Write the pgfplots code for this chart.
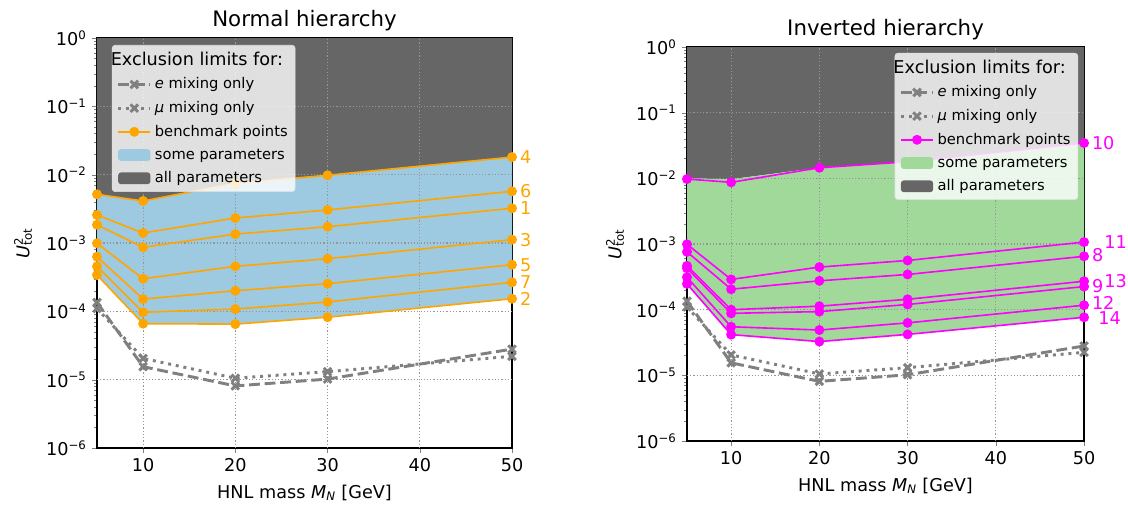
\documentclass[border=0pt]{standalone}
\usepackage{fontspec}
\setmainfont{DejaVu Sans}
\usepackage{pgfplots}
\pgfplotsset{compat=1.18}
\definecolor{bfill}{RGB}{158,202,225}
\definecolor{gfill}{RGB}{161,217,155}
\definecolor{darkfill}{RGB}{102,102,102}
\definecolor{bmorange}{RGB}{255,165,0}
\definecolor{bmmag}{RGB}{255,0,255}
\definecolor{lgray}{RGB}{128,128,128}
\definecolor{gridgray}{RGB}{150,150,150}

\pgfplotsset{
  patchlegend/.style={legend image code/.code={\fill[##1, opacity=1] (0pt,-4pt) rectangle (22pt,4pt);}},
  emix/.style={lgray, line width=2pt, dash pattern=on 7.4pt off 3.2pt, mark=x, mark size=3.6pt, mark options={solid, line width=2pt}},
  mumix/.style={lgray, line width=2pt, dash pattern=on 2pt off 3.3pt, mark=x, mark size=3.6pt, mark options={solid, line width=2pt}},
  bm/.style={line width=1.1pt, mark=*, mark size=2.8pt, mark options={solid}},
}
\tikzset{numlab/.style={anchor=west, inner sep=0pt, font=\fontsize{12}{14}\selectfont},
  gridline/.style={gridgray, line width=0.8pt, dash pattern=on 0.8pt off 1.4pt}}

\begin{document}
\begin{tikzpicture}
\useasboundingbox (-65.96pt,-38.08pt) rectangle (701.08pt,304.64pt);

% ---------------- Normal hierarchy ----------------
\begin{axis}[width=282.2pt, height=278.8pt, at={(0pt,0pt)}, anchor=south west,
    scale only axis,
    xmin=5, xmax=50, ymode=log, ymin=1e-6, ymax=1,
    xtick={10,20,30,40,50}, xticklabels={10,20,30,40,50},
    ytick={1e-6,1e-5,1e-4,1e-3,1e-2,1e-1,1},
    yticklabels={10\textsuperscript{−6},10\textsuperscript{−5},10\textsuperscript{−4},10\textsuperscript{−3},10\textsuperscript{−2},10\textsuperscript{−1},10\textsuperscript{0}},
    tick label style={font=\fontsize{12}{14}\selectfont},
    tick align=outside, xtick pos=left, ytick pos=left,
    major tick length=3.5pt, minor tick length=2pt,
    axis line style={line width=0.8pt},
    clip mode=individual,
    title style={at={(axis description cs:0.5,1)}, anchor=base, yshift=2pt, font=\fontsize{14.5}{17}\selectfont},
    xlabel style={at={(axis description cs:0.5,0)}, anchor=base, yshift=-34pt, font=\fontsize{12}{14}\selectfont},
    xlabel={HNL mass \textit{M}\textsubscript{\textit{N}} [GeV]},
    ylabel={\textit{U}\rlap{\textsuperscript{2}}\textsubscript{tot}},
    legend cell align=left,
    legend style={fill=white, fill opacity=0.8, text opacity=1, draw opacity=1, draw=black!12,
      rounded corners=2pt, font=\fontsize{10}{12}\selectfont, row sep=3pt, inner xsep=3pt, inner ysep=2.5pt},
    legend image code/.code={\draw[mark repeat=2,mark phase=2,#1,opacity=1] plot coordinates {(0pt,0pt) (11pt,0pt) (22pt,0pt)};},
  title={Normal hierarchy},
  ylabel style={at={(axis description cs:-0.178,0.5)}, anchor=center, font=\fontsize{12}{14}\selectfont},
  legend style={at={(rel axis cs:0.036,0.983)}, anchor=north west}]
% all parameters (dark)
\addplot[fill=darkfill, draw=none, forget plot] coordinates {(5,5.16e-3)(10,4.12e-3)(20,7.47e-3)(30,9.8e-3)(50,1.81e-2)(50,1)(5,1)} -- cycle;
% some parameters (blue)
\addplot[fill=bfill, draw=none, forget plot] coordinates {(5,3.4e-4)(10,6.6e-5)(20,6.5e-5)(30,8.2e-5)(50,1.53e-4)(50,1.81e-2)(30,9.8e-3)(20,7.47e-3)(10,4.12e-3)(5,5.16e-3)} -- cycle;
% grid
\draw[gridline] (axis cs:10,1e-6) -- (axis cs:10,1);
\draw[gridline] (axis cs:20,1e-6) -- (axis cs:20,1);
\draw[gridline] (axis cs:30,1e-6) -- (axis cs:30,1);
\draw[gridline] (axis cs:40,1e-6) -- (axis cs:40,1);
\draw[gridline] (axis cs:5,1e-5) -- (axis cs:50,1e-5);
\draw[gridline] (axis cs:5,1e-4) -- (axis cs:50,1e-4);
\draw[gridline] (axis cs:5,1e-3) -- (axis cs:50,1e-3);
\draw[gridline] (axis cs:5,1e-2) -- (axis cs:50,1e-2);
\draw[gridline] (axis cs:5,1e-1) -- (axis cs:50,1e-1);
% gray lines
\addplot[emix, forget plot] coordinates {(5,1.35e-4)(10,1.55e-5)(20,8.1e-6)(30,1.02e-5)(50,2.8e-5)};
\addplot[mumix, forget plot] coordinates {(5,1.1e-4)(10,2.05e-5)(20,1.05e-5)(30,1.31e-5)(50,2.2e-5)};
% benchmarks
\addplot[bm, bmorange, forget plot] coordinates {(5,5.16e-3)(10,4.12e-3)(20,7.47e-3)(30,9.8e-3)(50,1.81e-2)};
\addplot[bm, bmorange, forget plot] coordinates {(5,2.57e-3)(10,1.40e-3)(20,2.32e-3)(30,3.04e-3)(50,5.71e-3)};
\addplot[bm, bmorange, forget plot] coordinates {(5,1.85e-3)(10,8.65e-4)(20,1.35e-3)(30,1.73e-3)(50,3.22e-3)};
\addplot[bm, bmorange, forget plot] coordinates {(5,9.9e-4)(10,3.0e-4)(20,4.56e-4)(30,5.89e-4)(50,1.12e-3)};
\addplot[bm, bmorange, forget plot] coordinates {(5,6.3e-4)(10,1.51e-4)(20,2.0e-4)(30,2.54e-4)(50,4.81e-4)};
\addplot[bm, bmorange, forget plot] coordinates {(5,4.56e-4)(10,9.7e-5)(20,1.08e-4)(30,1.37e-4)(50,2.66e-4)};
\addplot[bm, bmorange, forget plot] coordinates {(5,3.4e-4)(10,6.6e-5)(20,6.5e-5)(30,8.2e-5)(50,1.53e-4)};
\node[numlab, text=bmorange, xshift=5.4pt] at (axis cs:50,1.81e-2) {4};
\node[numlab, text=bmorange, xshift=5.4pt] at (axis cs:50,5.71e-3) {6};
\node[numlab, text=bmorange, xshift=5.4pt] at (axis cs:50,3.22e-3) {1};
\node[numlab, text=bmorange, xshift=5.4pt] at (axis cs:50,1.12e-3) {3};
\node[numlab, text=bmorange, xshift=5.4pt] at (axis cs:50,4.81e-4) {5};
\node[numlab, text=bmorange, xshift=5.4pt] at (axis cs:50,2.66e-4) {7};
\node[numlab, text=bmorange, xshift=5.4pt] at (axis cs:50,1.53e-4) {2};
% legend
\addlegendimage{empty legend}
\addlegendentry{\hspace{-30pt}\fontsize{12}{14}\selectfont Exclusion limits for:}
\addlegendimage{emix}
\addlegendentry{\textit{e} mixing only}
\addlegendimage{mumix}
\addlegendentry{\textit{μ} mixing only}
\addlegendimage{bm, bmorange}
\addlegendentry{benchmark points}
\addlegendimage{patchlegend, fill=bfill, draw=none}
\addlegendentry{some parameters}
\addlegendimage{patchlegend, fill=darkfill, draw=none}
\addlegendentry{all parameters}
\end{axis}

% ---------------- Inverted hierarchy ----------------
\begin{axis}[width=270pt, height=267.9pt, at={(401.2pt,4.76pt)}, anchor=south west,
    scale only axis,
    xmin=5, xmax=50, ymode=log, ymin=1e-6, ymax=1,
    xtick={10,20,30,40,50}, xticklabels={10,20,30,40,50},
    ytick={1e-6,1e-5,1e-4,1e-3,1e-2,1e-1,1},
    yticklabels={10\textsuperscript{−6},10\textsuperscript{−5},10\textsuperscript{−4},10\textsuperscript{−3},10\textsuperscript{−2},10\textsuperscript{−1},10\textsuperscript{0}},
    tick label style={font=\fontsize{12}{14}\selectfont},
    tick align=outside, xtick pos=left, ytick pos=left,
    major tick length=3.5pt, minor tick length=2pt,
    axis line style={line width=0.8pt},
    clip mode=individual,
    title style={at={(axis description cs:0.5,1)}, anchor=base, yshift=2pt, font=\fontsize{14.5}{17}\selectfont},
    xlabel style={at={(axis description cs:0.5,0)}, anchor=base, yshift=-34pt, font=\fontsize{12}{14}\selectfont},
    xlabel={HNL mass \textit{M}\textsubscript{\textit{N}} [GeV]},
    ylabel={\textit{U}\rlap{\textsuperscript{2}}\textsubscript{tot}},
    legend cell align=left,
    legend style={fill=white, fill opacity=0.8, text opacity=1, draw opacity=1, draw=black!12,
      rounded corners=2pt, font=\fontsize{10}{12}\selectfont, row sep=3pt, inner xsep=3pt, inner ysep=2.5pt},
    legend image code/.code={\draw[mark repeat=2,mark phase=2,#1,opacity=1] plot coordinates {(0pt,0pt) (11pt,0pt) (22pt,0pt)};},
  title={Inverted hierarchy},
  ylabel style={at={(axis description cs:-0.181,0.5)}, anchor=center, font=\fontsize{12}{14}\selectfont},
  legend style={at={(rel axis cs:0.985,0.985)}, anchor=north east}]
\addplot[fill=darkfill, draw=none, forget plot] coordinates {(5,1e-2)(10,9.7e-3)(20,1.45e-2)(30,1.79e-2)(50,3.45e-2)(50,1)(5,1)} -- cycle;
\addplot[fill=gfill, draw=none, forget plot] coordinates {(5,2.47e-4)(10,4.17e-5)(20,3.27e-5)(30,4.2e-5)(50,7.66e-5)(50,3.45e-2)(30,1.79e-2)(20,1.45e-2)(10,9.7e-3)(5,1e-2)} -- cycle;
\draw[gridline] (axis cs:10,1e-6) -- (axis cs:10,1);
\draw[gridline] (axis cs:20,1e-6) -- (axis cs:20,1);
\draw[gridline] (axis cs:30,1e-6) -- (axis cs:30,1);
\draw[gridline] (axis cs:40,1e-6) -- (axis cs:40,1);
\draw[gridline] (axis cs:5,1e-5) -- (axis cs:50,1e-5);
\draw[gridline] (axis cs:5,1e-4) -- (axis cs:50,1e-4);
\draw[gridline] (axis cs:5,1e-3) -- (axis cs:50,1e-3);
\draw[gridline] (axis cs:5,1e-2) -- (axis cs:50,1e-2);
\draw[gridline] (axis cs:5,1e-1) -- (axis cs:50,1e-1);
\addplot[emix, forget plot] coordinates {(5,1.35e-4)(10,1.55e-5)(20,8.1e-6)(30,1.02e-5)(50,2.8e-5)};
\addplot[mumix, forget plot] coordinates {(5,1.1e-4)(10,2.05e-5)(20,1.05e-5)(30,1.31e-5)(50,2.24e-5)};
\addplot[bm, bmmag, forget plot] coordinates {(5,9.76e-3)(10,8.7e-3)(20,1.45e-2)(30,1.79e-2)(50,3.45e-2)};
\addplot[bm, bmmag, forget plot] coordinates {(5,9.9e-4)(10,2.89e-4)(20,4.45e-4)(30,5.62e-4)(50,1.07e-3)};
\addplot[bm, bmmag, forget plot] coordinates {(5,7.6e-4)(10,2.05e-4)(20,2.75e-4)(30,3.44e-4)(50,6.5e-4)};
\addplot[bm, bmmag, forget plot] coordinates {(5,4.65e-4)(10,1.0e-4)(20,1.13e-4)(30,1.44e-4)(50,2.71e-4)};
\addplot[bm, bmmag, forget plot] coordinates {(5,4.28e-4)(10,8.8e-5)(20,9.35e-5)(30,1.2e-4)(50,2.25e-4)};
\addplot[bm, bmmag, forget plot] coordinates {(5,3.12e-4)(10,5.5e-5)(20,4.9e-5)(30,6.3e-5)(50,1.17e-4)};
\addplot[bm, bmmag, forget plot] coordinates {(5,2.47e-4)(10,4.17e-5)(20,3.27e-5)(30,4.2e-5)(50,7.66e-5)};
\node[numlab, text=bmmag, xshift=5.2pt] at (axis cs:50,3.45e-2) {10};
\node[numlab, text=bmmag, xshift=13.6pt] at (axis cs:50,1.07e-3) {11};
\node[numlab, text=bmmag, xshift=5.2pt, yshift=0.7pt] at (axis cs:50,6.5e-4) {8};
\node[numlab, text=bmmag, xshift=13.6pt] at (axis cs:50,2.71e-4) {13};
\node[numlab, text=bmmag, xshift=5.2pt, yshift=0.5pt] at (axis cs:50,2.25e-4) {9};
\node[numlab, text=bmmag, xshift=5.2pt, yshift=1.6pt] at (axis cs:50,1.17e-4) {12};
\node[numlab, text=bmmag, xshift=9.5pt, yshift=-0.5pt] at (axis cs:50,7.66e-5) {14};
\addlegendimage{empty legend}
\addlegendentry{\hspace{-30pt}\fontsize{12}{14}\selectfont Exclusion limits for:}
\addlegendimage{emix}
\addlegendentry{\textit{e} mixing only}
\addlegendimage{mumix}
\addlegendentry{\textit{μ} mixing only}
\addlegendimage{bm, bmmag}
\addlegendentry{benchmark points}
\addlegendimage{patchlegend, fill=gfill, draw=none}
\addlegendentry{some parameters}
\addlegendimage{patchlegend, fill=darkfill, draw=none}
\addlegendentry{all parameters}
\end{axis}
\end{tikzpicture}
\end{document}
